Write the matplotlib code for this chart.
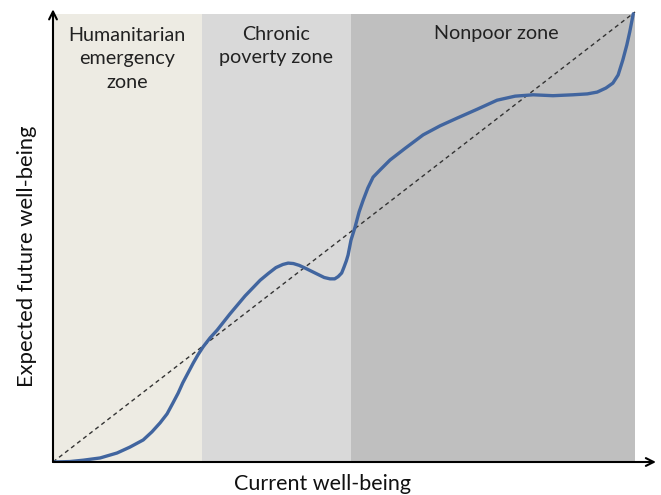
import matplotlib
matplotlib.use("Agg")
import matplotlib.pyplot as plt

# Zones (x ranges in data units 0-100)
zone_names = ["Humanitarian\nemergency\nzone", "Chronic\npoverty zone", "Nonpoor zone"]
zone_starts = [0, 25.6, 51.2]
zone_ends = [25.6, 51.2, 100]
zone_colors = ["#EDEBE3", "#D9D9D9", "#BFBFBF"]
zone_label_x = [12.7, 38.3, 76.1]
zone_label_y = [89.6, 92.4, 95.3]

# Curve: current well-being vs expected future well-being
curve_x = [0.2, 2.9, 5.2, 8.1, 11.0, 13.2, 15.5, 17.0, 18.4, 19.6, 20.6, 21.5, 22.3, 23.2,
           24.1, 24.9, 25.8, 27.0, 28.2, 30.4, 33.0, 35.6, 37.0, 38.3, 39.5, 40.4, 41.3,
           42.3, 43.3, 44.4, 45.5, 46.6, 47.6, 48.4, 49.0, 49.6, 50.0, 50.4, 50.7, 51.2,
           51.9, 52.6, 53.3, 54.1, 55.0, 56.2, 57.9, 60.5, 63.6, 66.5, 69.4, 72.9, 76.3,
           79.4, 82.5, 85.9, 89.3, 91.8, 93.5, 95.0, 96.2, 97.1, 97.9, 98.6, 99.1, 99.7]
curve_y = [0.0, 0.1, 0.4, 0.9, 2.0, 3.3, 4.9, 6.7, 8.7, 10.7, 13.1, 15.3, 17.6, 19.8,
           22.0, 23.8, 25.6, 27.6, 29.3, 32.9, 36.9, 40.4, 41.9, 43.2, 43.9, 44.2, 44.1,
           43.7, 43.1, 42.4, 41.7, 41.0, 40.7, 40.7, 41.2, 42.0, 43.3, 44.7, 46.0, 49.3,
           52.2, 55.6, 58.2, 60.9, 63.3, 64.9, 67.1, 69.7, 72.7, 74.7, 76.4, 78.4, 80.4,
           81.3, 81.6, 81.4, 81.6, 81.8, 82.2, 83.1, 84.2, 86.0, 89.3, 92.7, 95.6, 99.6]

# Equality (45 degree) line
diag_x = [0, 100]
diag_y = [0, 100]

W, H = 661, 495
fig = plt.figure(figsize=(W / 100, H / 100), dpi=100)
ax = fig.add_axes([53 / W, 33 / H, (658 - 53) / W, (462 - 8) / H])
ax.set_xlim(0, 100 * 605 / 582)
ax.set_ylim(0, 100 * 454 / 450)
ax.axis("off")

for s, e, c in zip(zone_starts, zone_ends, zone_colors):
    ax.fill_between([s, e], 0, 99.6, color=c, lw=0, zorder=0)

font = "Lato"
for name, x, y in zip(zone_names, zone_label_x, zone_label_y):
    ax.text(x, y, name, ha="center", va="center", fontsize=14.2, family=font,
            color="#222222", linespacing=1.45, zorder=3)

ax.plot(diag_x, diag_y, color="#333333", lw=1.0, ls=(0, (3, 2.5)), zorder=2)
ax.plot(curve_x, curve_y, color="#41659F", lw=2.4, solid_capstyle="round",
        solid_joinstyle="round", zorder=4)

# axes with arrows
ax.annotate("", xy=(103.6, 0), xytext=(0, 0), annotation_clip=False,
            arrowprops=dict(arrowstyle="->", color="black", lw=1.5,
                            shrinkA=0, shrinkB=0, mutation_scale=14), zorder=5)
ax.annotate("", xy=(0, 100.6), xytext=(0, 0), annotation_clip=False,
            arrowprops=dict(arrowstyle="->", color="black", lw=1.5,
                            shrinkA=0, shrinkB=0, mutation_scale=14), zorder=5)

fig.text(323 / W, 1 - 484 / H, "Current well-being", ha="center", va="center",
         fontsize=15.5, family=font, color="#111111")
fig.text(27 / W, 1 - 256 / H, "Expected future well-being", ha="center", va="center",
         rotation=90, fontsize=15.8, family=font, color="#111111")

fig.savefig("out.png", dpi=100)
